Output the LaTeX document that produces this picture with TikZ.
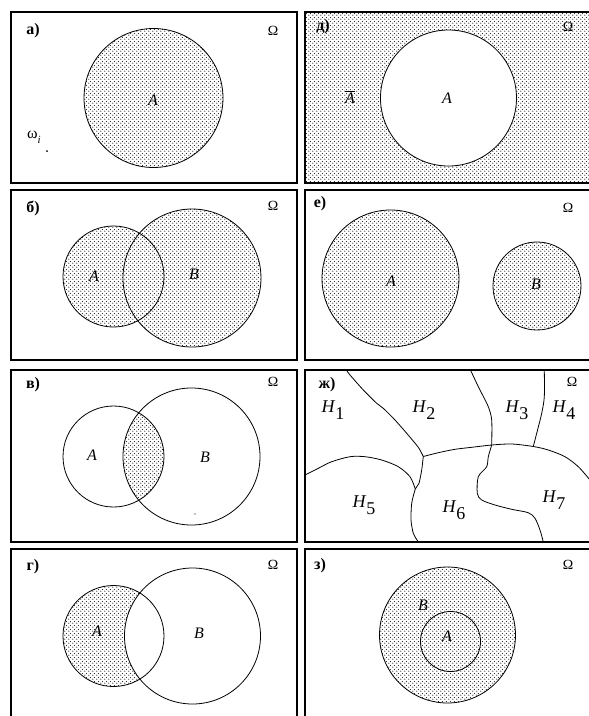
\documentclass[tikz,border=0pt]{standalone}
\usepackage{fontspec}
\setmainfont{Liberation Serif}
\usetikzlibrary{patterns.meta}
\tikzdeclarepattern{
  name=vdots, type=uncolored,
  bounding box={(0pt,0pt) and (4pt,4pt)},
  tile size={(4pt,4pt)},
  code={\fill (1pt,1pt) circle (0.7pt); \fill (3pt,3pt) circle (0.7pt);}
}
\newcommand\Hsub[1]{\textit{H}\raisebox{-0.42em}{#1}}
\begin{document}
\begin{tikzpicture}[x=1pt,y=-1pt,
  panel/.style={draw, line width=1.1pt},
  ring/.style={draw, line width=0.8pt},
  dotfill/.style={pattern=vdots, pattern color=black!90},
  tag/.style={font=\bfseries\fontsize{16}{16}\selectfont, inner sep=0pt},
  omg/.style={font=\fontsize{14}{14}\selectfont, inner sep=0pt},
  setl/.style={font=\itshape\fontsize{16}{16}\selectfont, inner sep=0pt},
  hl/.style={font=\fontsize{18}{18}\selectfont, inner sep=0pt},
  bound/.style={line width=0.8pt},
  pt/.style={circle, fill, inner sep=0pt, minimum size=2pt}
]
\useasboundingbox (0,0) rectangle (589,716);
\clip (0,0) rectangle (589,716);
\fill[white] (0,0) rectangle (589,716);

% ---------- a)
\draw[panel] (11,12) rectangle (297,183);
\fill[dotfill] (153.5,98) circle (69.5pt);
\draw[ring] (153.5,98) circle (69.5pt);
\node[tag] (ta) at (33,31) {а)};
\node[omg] (oa) at (273,31) {Ω};
\node[setl] (la) at (153,100) {A};
\node[font=\fontsize{16}{16}\selectfont, inner sep=0pt] (wi) at (34,137) {ω\raisebox{-0.3em}{\fontsize{11}{11}\selectfont\itshape i}};
\node[pt] (wpt) at (47,151) {};

% ---------- д)
\fill[dotfill] (305,12) rectangle (595,183);
\draw[panel] (305,12) rectangle (595,183);
\fill[white] (448.5,98) circle (68pt);
\draw[ring] (448.5,98) circle (68pt);
\node[tag] (td) at (323,27) {д)};
\node[omg] (od) at (568,27) {Ω};
\node[setl] (ld) at (447,98) {A};
\node[setl] (lbar) at (350,97) {$\overline{\mbox{\itshape A}}$};

% ---------- б)
\draw[panel] (11,190) rectangle (297,360);
\fill[dotfill] (113.5,276.5) circle (50.5pt) (192,278) circle (69pt);
\draw[ring] (113.5,276.5) circle (50.5pt);
\draw[ring] (192,278) circle (69pt);
\node[tag] (tb) at (33,208) {б)};
\node[omg] (ob) at (273,206) {Ω};
\node[setl] (lba) at (94,276) {A};
\node[setl] (lbb) at (194,274) {B};

% ---------- е)
\draw[panel] (305,190) rectangle (595,360);
\fill[dotfill] (390.5,278.5) circle (68.5pt);
\fill[dotfill] (537,286) circle (44pt);
\draw[ring] (390.5,278.5) circle (68.5pt);
\draw[ring] (537,286) circle (44pt);
\node[tag] (te) at (320,204) {е)};
\node[omg] (oe) at (568,208) {Ω};
\node[setl] (lea) at (391,281) {A};
\node[setl] (leb) at (536,284) {B};

% ---------- в)
\draw[panel] (11,370) rectangle (297,542);
\begin{scope}
  \clip (113.5,456.5) circle (50.5pt);
  \fill[dotfill] (191.5,456.5) circle (68.5pt);
\end{scope}
\draw[ring] (113.5,456.5) circle (50.5pt);
\draw[ring] (191.5,456.5) circle (68.5pt);
\node[tag] (tv) at (33,385) {в)};
\node[omg] (ov) at (273,382) {Ω};
\node[setl] (lva) at (92,455) {A};
\node[setl] (lvb) at (205,457) {B};
\node[circle, fill, inner sep=0pt, minimum size=1.3pt] (vdot) at (195,514) {};

% ---------- ж)
\draw[panel] (305,370) rectangle (595,542);
\coordinate (J) at (423.3,456.5);
\coordinate (K) at (491.7,445);
\coordinate (L) at (533.3,446.5);
\coordinate (M) at (415.3,489);
\draw[bound] plot[smooth, tension=0.4] coordinates {(346.7,370.5) (350,375) (363.3,390) (376.7,403.3) (383.3,408.3) (395,420) (406.7,433.3) (418.3,447.3) (423.3,456.5)};
\draw[bound] plot[smooth, tension=0.4] coordinates {(423.3,456.5) (421.7,470) (419,483.3) (415.3,489) (411.7,503.3) (411,520) (413.3,533.3) (418.3,542)};
\draw[bound] plot[smooth, tension=0.5] coordinates {(305,475) (318.3,468.3) (331.7,461.7) (350,456.7) (365,456.7) (381.7,460) (398.3,466.7) (410,476.7) (415.3,489)};
\draw[bound] plot[smooth, tension=0.5] coordinates {(423.3,456.5) (438.3,452.7) (455,449.3) (471.7,447.3) (491.7,445) (511.7,444) (533.3,446.5) (548.3,450) (565,456.7) (578.3,466.7) (590,480)};
\draw[bound] plot[smooth, tension=0.5] coordinates {(470.7,370.5) (476.7,383.3) (481.7,393.3) (488.3,406.7) (491.7,420) (491.7,445)};
\draw[bound] plot[smooth, tension=0.5] coordinates {(544.3,370.5) (544.3,396.7) (541.7,413.3) (536.7,433.3) (533.3,446.5)};
\draw[bound] plot[smooth, tension=0.5] coordinates {(491.7,445) (488.3,456.7) (486.7,466.7) (478.3,476.7) (477.3,493.3) (481.7,500) (495,505) (511.7,509.3) (528.3,512.7) (535,518.3) (540,530) (543.3,542)};
\node[tag] (tzh) at (327,385) {ж)};
\node[omg] (ozh) at (572,382) {Ω};
\node[hl] (h1) at (333,410) {\Hsub{1}};
\node[hl] (h2) at (424,410) {\Hsub{2}};
\node[hl] (h3) at (517,410) {\Hsub{3}};
\node[hl] (h4) at (564,410) {\Hsub{4}};
\node[hl] (h5) at (364,505) {\Hsub{5}};
\node[hl] (h6) at (454,510) {\Hsub{6}};
\node[hl] (h7) at (554,500) {\Hsub{7}};

% ---------- г)
\draw[panel] (11,549) rectangle (297,730);
\fill[dotfill] (113.5,636) circle (50.5pt);
\begin{scope}
  \clip (113.5,636) circle (50.5pt);
  \fill[white] (192.5,636) circle (68pt);
\end{scope}
\draw[ring] (113.5,636) circle (50.5pt);
\draw[ring] (192.5,636) circle (68pt);
\node[tag] (tg) at (33,567) {г)};
\node[omg] (og) at (273,565) {Ω};
\node[setl] (lga) at (97,631) {A};
\node[setl] (lgb) at (199,633) {B};

% ---------- з)
\draw[panel] (305,549) rectangle (595,730);
\fill[dotfill] (447.5,635) circle (68pt);
\draw[ring] (447.5,635) circle (68pt);
\draw[ring] (450.5,641.5) circle (30pt);
\node[tag] (tz) at (320,566) {з)};
\node[omg] (oz) at (568,565) {Ω};
\node[setl] (lzb) at (423,605) {B};
\node[setl] (lza) at (447,636) {A};
\end{tikzpicture}
\end{document}
